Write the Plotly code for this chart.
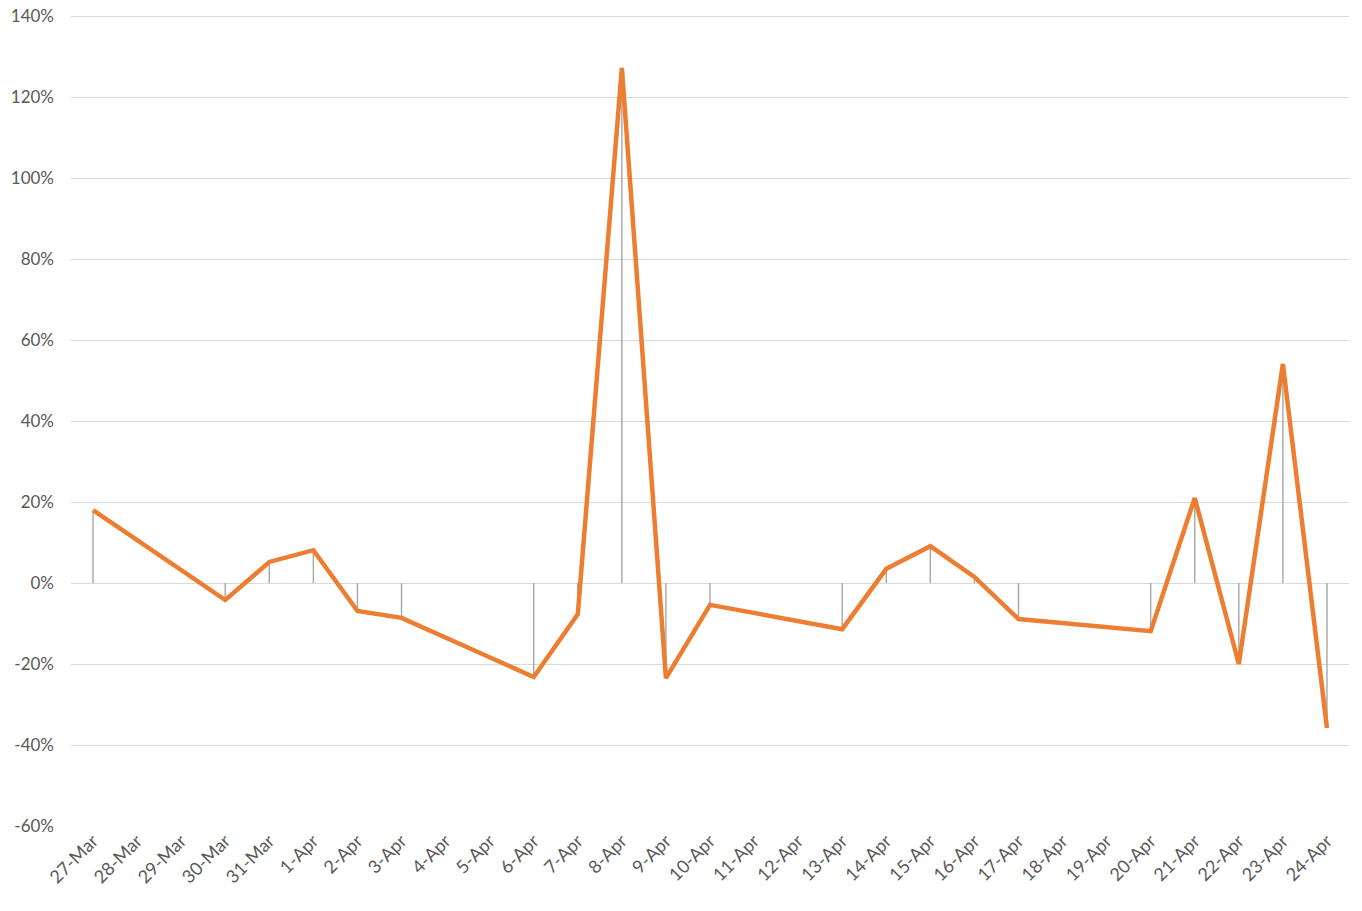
import plotly.graph_objects as go

dates = ["27-Mar", "28-Mar", "29-Mar", "30-Mar", "31-Mar", "1-Apr", "2-Apr", "3-Apr",
         "4-Apr", "5-Apr", "6-Apr", "7-Apr", "8-Apr", "9-Apr", "10-Apr", "11-Apr",
         "12-Apr", "13-Apr", "14-Apr", "15-Apr", "16-Apr", "17-Apr", "18-Apr", "19-Apr",
         "20-Apr", "21-Apr", "22-Apr", "23-Apr", "24-Apr"]
# daily change (fraction); None = no data (weekend)
change = [0.180, None, None, -0.042, 0.052, 0.081, -0.069, -0.086,
          None, None, -0.232, -0.077, 1.272, -0.235, -0.054, None,
          None, -0.114, 0.035, 0.091, 0.015, -0.089, None, None,
          -0.119, 0.210, -0.200, 0.541, -0.358]

y_ticks = [-0.6, -0.4, -0.2, 0, 0.2, 0.4, 0.6, 0.8, 1.0, 1.2, 1.4]
y_labels = ["-60%", "-40%", "-20%", "0%", "20%", "40%", "60%", "80%", "100%", "120%", "140%"]

# drop lines built from data
dx, dy = [], []
for d, v in zip(dates, change):
    if v is not None:
        dx += [d, d, None]
        dy += [0, v, None]

fig = go.Figure()
fig.add_trace(go.Scatter(x=dx, y=dy, mode="lines",
                         line=dict(color="#A6A6A6", width=1.4),
                         hoverinfo="skip", showlegend=False))
fig.add_trace(go.Scatter(x=dates, y=change, mode="lines", connectgaps=True,
                         line=dict(color="#ED7D31", width=4.5),
                         showlegend=False))

font = dict(family="Lato, 'Open Sans', sans-serif", size=16, color="#595959")
fig.update_layout(
    width=1362, height=911,
    margin=dict(l=71, r=13, t=15, b=85),
    paper_bgcolor="white", plot_bgcolor="white",
    font=font,
    xaxis=dict(type="category", categoryorder="array", categoryarray=dates,
               range=[-0.5, len(dates) - 0.5], showgrid=False, zeroline=False,
               showline=False, ticks="", tickangle=-45, tickfont=dict(size=18),
               automargin=False),
    yaxis=dict(range=[-0.6, 1.4025], tickvals=y_ticks, ticktext=y_labels,
               showgrid=True, gridcolor="#D9D9D9", gridwidth=1.3,
               zeroline=False, showline=False, ticks="", ticklabelstandoff=16,
               ticklabeloverflow="allow",
               tickfont=dict(size=17), automargin=False),
)
fig.write_html("out.html",
               config={"displayModeBar": False},
               post_script="document.body.style.margin='0';document.body.style.overflow='hidden';")
